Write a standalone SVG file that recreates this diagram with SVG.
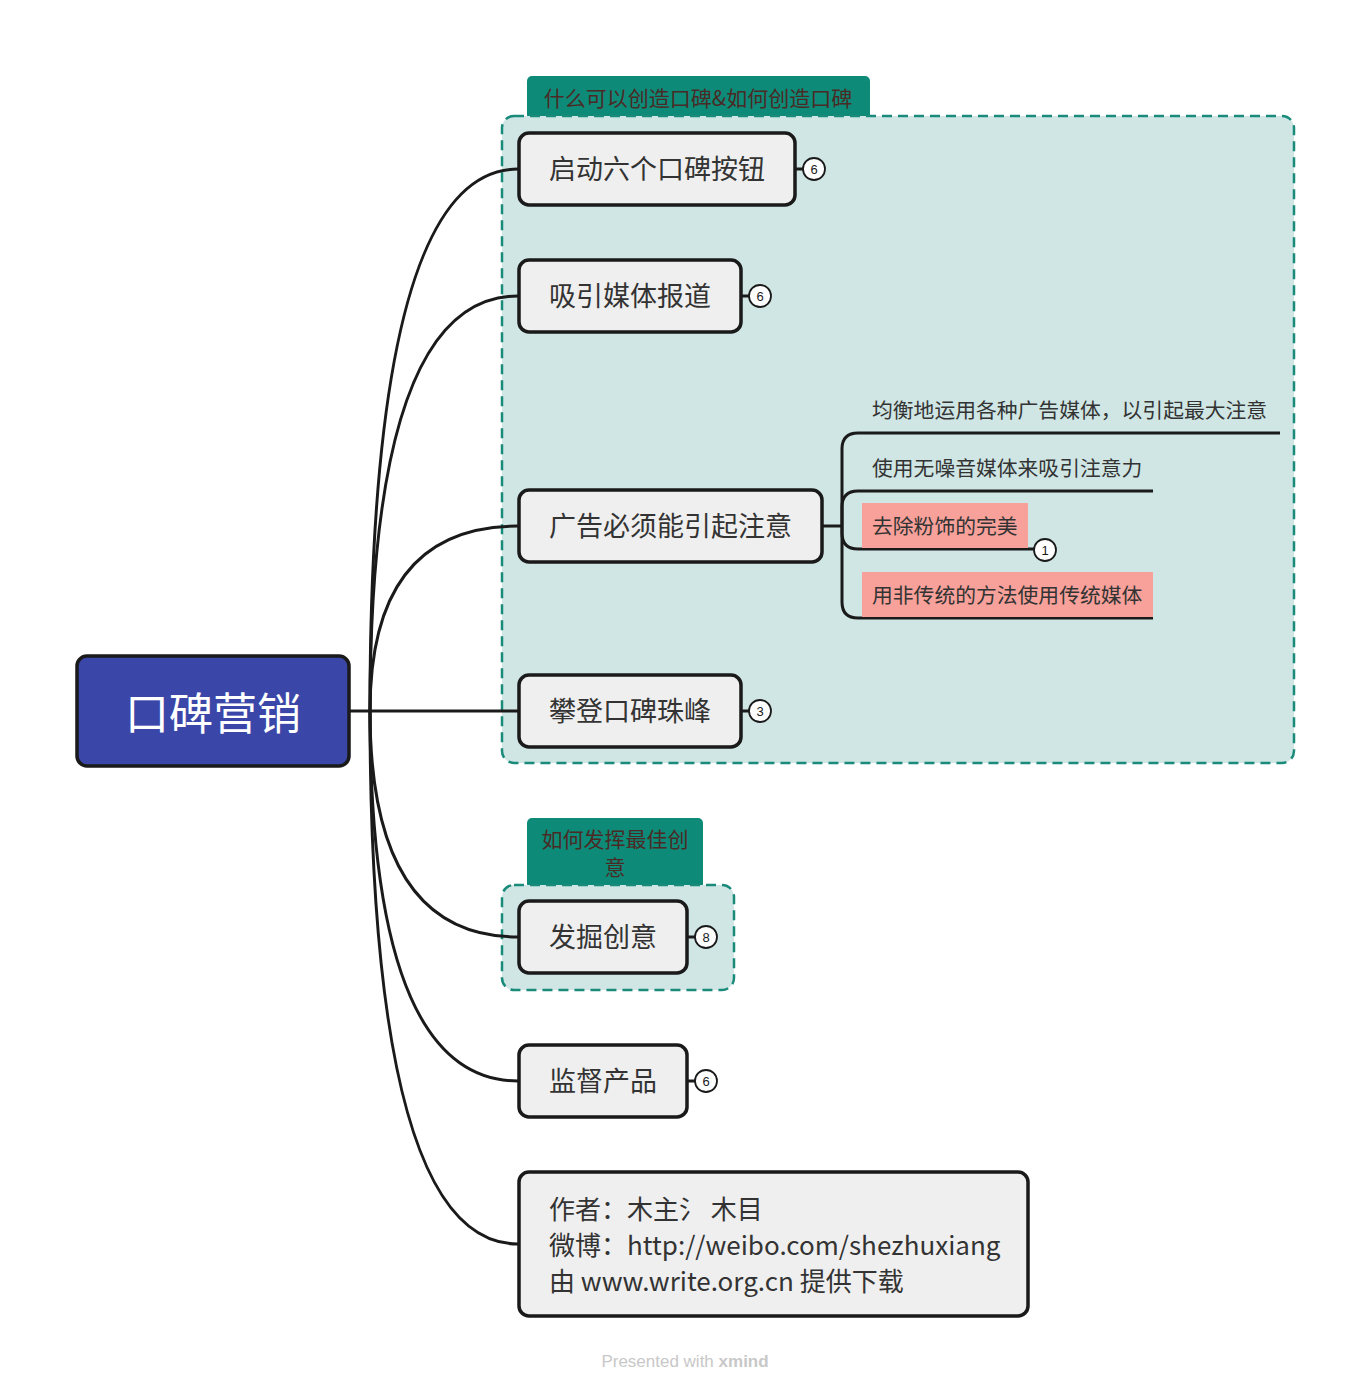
<svg xmlns="http://www.w3.org/2000/svg" width="1371" height="1393" viewBox="0 0 1371 1393">
<style>
.topic{fill:#efefef;stroke:#1a1a1a;stroke-width:3.5}
.t{font-family:"Noto Sans CJK SC","Liberation Sans",sans-serif;fill:#333;font-size:27px}
.a{font-family:"Noto Sans CJK SC","Liberation Sans",sans-serif;fill:#333;font-size:26px}
.s{font-family:"Noto Sans CJK SC","Liberation Sans",sans-serif;fill:#333;font-size:20.8px}
.badge{fill:#fff;stroke:#1a1a1a;stroke-width:1.8}
.bt{font-family:"Liberation Sans",sans-serif;font-size:13px;fill:#1a1a1a;text-anchor:middle}
.conn{fill:none;stroke:#1a1a1a;stroke-width:3}
.bound{fill:#cfe6e4;stroke:#1a8a7a;stroke-width:2.5;stroke-dasharray:10 6}
.tab{fill:#0e8a79}
.tabt{font-family:"Noto Sans CJK SC","Liberation Sans",sans-serif;fill:#4a2a25;font-size:21px;text-anchor:middle}
.pink{fill:#f7a19a}
</style>
<rect width="1371" height="1393" fill="#fff"/>
<g id="boundary1">
<rect class="tab" x="527" y="76" width="343" height="44" rx="5"/>
<text class="tabt" x="698" y="106">什么可以创造口碑&amp;如何创造口碑</text>
<rect class="bound" x="502" y="116" width="792" height="647" rx="12"/>
</g>
<g id="boundary2">
<rect class="tab" x="527" y="818" width="176" height="71" rx="5"/>
<text class="tabt" x="615" y="847">如何发挥最佳创</text>
<text class="tabt" x="615" y="875">意</text>
<rect class="bound" x="502" y="885" width="232" height="105" rx="12"/>
</g>
<g id="connectors">
<path class="conn" d="M349 711 H370"/>
<path class="conn" d="M370 711 Q370 169 518 169"/>
<path class="conn" d="M370 711 Q370 296 518 296"/>
<path class="conn" d="M370 711 Q370 526 518 526"/>
<path class="conn" d="M370 711 H518"/>
<path class="conn" d="M370 711 Q370 937 518 937"/>
<path class="conn" d="M370 711 Q370 1081 518 1081"/>
<path class="conn" d="M370 711 Q370 1244 518 1244"/>
<path class="conn" d="M822 526 H842"/>
<path class="conn" d="M842 526 V449 Q842 433 858 433 H1280"/>
<path class="conn" d="M842 526 V507 Q842 491 858 491 H1153"/>
<path class="conn" d="M842 526 V533 Q842 549 858 549 H1034"/>
<path class="conn" d="M842 526 V602 Q842 618 858 618 H1153"/>
<path class="conn" d="M795 169 H803"/>
<path class="conn" d="M741 296 H749"/>
<path class="conn" d="M741 711 H749"/>
<path class="conn" d="M687 937 H695"/>
<path class="conn" d="M687 1081 H695"/>
</g>
<g id="central">
<rect x="77" y="656" width="272" height="110" rx="10" fill="#3a47a8" stroke="#1a1a1a" stroke-width="3.5"/>
<text x="213" y="730" font-family="Noto Sans CJK SC,Liberation Sans,sans-serif" font-size="44" fill="#fff" text-anchor="middle">口碑营销</text>
</g>
<g id="n1">
<rect class="topic" x="519" y="133" width="276" height="72" rx="10"/>
<text class="t" x="549" y="179">启动六个口碑按钮</text>
<circle class="badge" cx="814" cy="169" r="11"/><text class="bt" x="814" y="174">6</text>
</g>
<g id="n2">
<rect class="topic" x="519" y="260" width="222" height="72" rx="10"/>
<text class="t" x="549" y="306">吸引媒体报道</text>
<circle class="badge" cx="760" cy="296" r="11"/><text class="bt" x="760" y="301">6</text>
</g>
<g id="n3">
<rect class="topic" x="519" y="490" width="303" height="72" rx="10"/>
<text class="t" x="549" y="536">广告必须能引起注意</text>
</g>
<g id="n3a">
<text class="s" x="872" y="418">均衡地运用各种广告媒体，以引起最大注意</text>
</g>
<g id="n3b">
<text class="s" x="872" y="476">使用无噪音媒体来吸引注意力</text>
</g>
<g id="n3c">
<rect class="pink" x="862" y="503" width="166" height="45"/>
<text class="s" x="872" y="534">去除粉饰的完美</text>
<circle class="badge" cx="1045" cy="550" r="11"/><text class="bt" x="1045" y="555">1</text>
</g>
<g id="n3d">
<rect class="pink" x="862" y="572" width="291" height="45"/>
<text class="s" x="872" y="603">用非传统的方法使用传统媒体</text>
</g>
<g id="n4">
<rect class="topic" x="519" y="675" width="222" height="72" rx="10"/>
<text class="t" x="549" y="721">攀登口碑珠峰</text>
<circle class="badge" cx="760" cy="711" r="11"/><text class="bt" x="760" y="716">3</text>
</g>
<g id="n5">
<rect class="topic" x="519" y="901" width="168" height="72" rx="10"/>
<text class="t" x="549" y="947">发掘创意</text>
<circle class="badge" cx="706" cy="937" r="11"/><text class="bt" x="706" y="942">8</text>
</g>
<g id="n6">
<rect class="topic" x="519" y="1045" width="168" height="72" rx="10"/>
<text class="t" x="549" y="1091">监督产品</text>
<circle class="badge" cx="706" cy="1081" r="11"/><text class="bt" x="706" y="1086">6</text>
</g>
<g id="n7">
<rect class="topic" x="519" y="1172" width="509" height="144" rx="10"/>
<text class="a" x="549" y="1219">作者：木主氵 木目</text>
<text class="a" x="549" y="1255">微博：http://weibo.com/shezhuxiang</text>
<text class="a" x="549" y="1291">由 www.write.org.cn 提供下载</text>
</g>
<text x="685" y="1367" font-family="Liberation Sans,sans-serif" font-size="17" fill="#c8c8c8" text-anchor="middle">Presented with <tspan font-weight="bold">xmind</tspan></text>
</svg>
